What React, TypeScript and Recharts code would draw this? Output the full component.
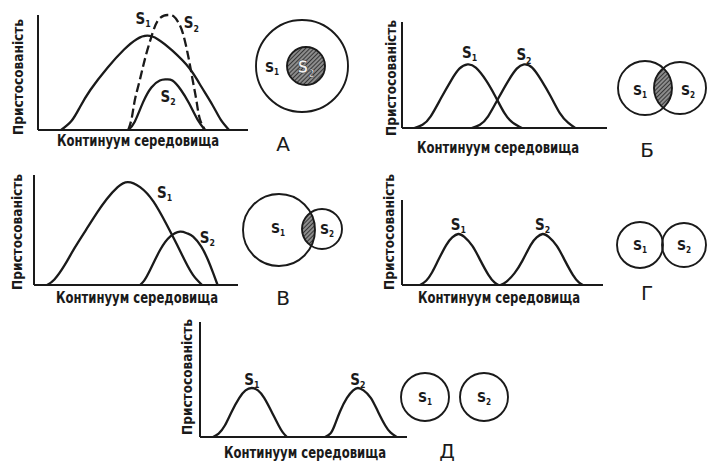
import { LineChart, Line, XAxis, YAxis, ReferenceDot, ScatterChart, Scatter } from 'recharts'

const INK = '#1a1a1a'
const FONT = '"Liberation Sans Narrow", "DejaVu Sans Condensed", "Roboto Condensed", Arial, sans-serif'

const xTitle = 'Континуум середовища'
const yTitle = 'Пристосованість'
const panelLetters = ['А', 'Б', 'В', 'Г', 'Д']

// fitness curves: x = position on the environmental gradient (0–100), y = fitness (0–100)
// А — S2 niche inside S1
const aS1 = [
  { x: 11, y: 0 }, { x: 16, y: 8 }, { x: 20, y: 20 }, { x: 25, y: 35 }, { x: 33, y: 54 },
  { x: 41, y: 70 }, { x: 47, y: 79 }, { x: 52, y: 82 }, { x: 57, y: 79 }, { x: 64, y: 69 },
  { x: 72, y: 54 }, { x: 77, y: 40 }, { x: 83, y: 22 }, { x: 87, y: 9 }, { x: 91, y: 0 },
]
const aS2free = [
  { x: 43, y: 0 }, { x: 44.6, y: 10 }, { x: 46, y: 25 }, { x: 48, y: 40 }, { x: 50, y: 55 },
  { x: 52, y: 69 }, { x: 54.5, y: 84 }, { x: 57, y: 95 }, { x: 60, y: 99.5 }, { x: 62, y: 100 },
  { x: 64.5, y: 99 }, { x: 67, y: 93 }, { x: 69, y: 84 }, { x: 71, y: 69 }, { x: 72.5, y: 55 },
  { x: 74, y: 40 }, { x: 75.5, y: 25 }, { x: 77, y: 10 }, { x: 79.5, y: 0 },
]
const aS2 = [
  { x: 43, y: 0 }, { x: 46, y: 7 }, { x: 50, y: 24 }, { x: 54, y: 37 }, { x: 58, y: 43 },
  { x: 61, y: 44 }, { x: 64, y: 43 }, { x: 68, y: 35 }, { x: 72, y: 23 }, { x: 76, y: 9 },
  { x: 79.5, y: 0 },
]
// Б — partial overlap
const bS1 = [
  { x: 6, y: 0 }, { x: 10, y: 3 }, { x: 14, y: 11 }, { x: 19, y: 28 }, { x: 24, y: 45 },
  { x: 28, y: 56 }, { x: 32, y: 60 }, { x: 36, y: 57 }, { x: 41, y: 45 }, { x: 45.5, y: 30 },
  { x: 50, y: 14 }, { x: 54, y: 5 }, { x: 58.5, y: 0 },
]
const bS2 = [
  { x: 34, y: 0 }, { x: 38, y: 3 }, { x: 42, y: 11 }, { x: 47, y: 28 }, { x: 52, y: 45 },
  { x: 56, y: 56 }, { x: 59.5, y: 60 }, { x: 63.5, y: 57 }, { x: 68, y: 45 }, { x: 72.5, y: 30 },
  { x: 77, y: 14 }, { x: 81, y: 5 }, { x: 84.5, y: 0 },
]
// В — small niche on the edge of a large one
const cS1 = [
  { x: 6.4, y: 0 }, { x: 10, y: 5 }, { x: 15, y: 18 }, { x: 20, y: 34 }, { x: 26.5, y: 53 },
  { x: 31, y: 66 }, { x: 35.6, y: 78 }, { x: 41, y: 89 }, { x: 46, y: 93.6 }, { x: 52, y: 89 },
  { x: 58.5, y: 76 }, { x: 65, y: 55 }, { x: 70, y: 37 }, { x: 74, y: 22 }, { x: 78, y: 9 },
  { x: 82.4, y: 0 },
]
const cS2 = [
  { x: 52, y: 0 }, { x: 54, y: 4 }, { x: 56.9, y: 13.6 }, { x: 61.8, y: 31.8 }, { x: 66.7, y: 44 },
  { x: 71.6, y: 48.5 }, { x: 75, y: 47 }, { x: 78, y: 44 }, { x: 82, y: 34.8 }, { x: 85.3, y: 22.7 },
  { x: 87.8, y: 11 }, { x: 90, y: 0 },
]
// Г — touching niches
const dS1 = [
  { x: 9, y: 0 }, { x: 12, y: 5 }, { x: 15, y: 15 }, { x: 18, y: 29 }, { x: 22, y: 47 },
  { x: 25, y: 56 }, { x: 28, y: 60 }, { x: 31, y: 56.5 }, { x: 35, y: 46 }, { x: 39, y: 29 },
  { x: 43, y: 12 }, { x: 46, y: 3 }, { x: 48, y: 0 },
]
const dS2 = [
  { x: 49, y: 0 }, { x: 52, y: 4 }, { x: 56, y: 14 }, { x: 60, y: 29 }, { x: 64, y: 47 },
  { x: 67, y: 56 }, { x: 70, y: 60 }, { x: 73, y: 56.5 }, { x: 77, y: 46 }, { x: 81, y: 29 },
  { x: 85, y: 12 }, { x: 88, y: 3 }, { x: 90, y: 0 },
]
// Д — separated niches
const eS1 = [
  { x: 6.3, y: 0 }, { x: 9, y: 3 }, { x: 12, y: 10 }, { x: 15.3, y: 22 }, { x: 19, y: 34 },
  { x: 22, y: 40.5 }, { x: 25, y: 42.6 }, { x: 28, y: 40.5 }, { x: 31, y: 34 }, { x: 34.6, y: 22 },
  { x: 38, y: 10 }, { x: 40, y: 4 }, { x: 42, y: 0 },
]
const eS2 = [
  { x: 60.4, y: 0 }, { x: 63, y: 3 }, { x: 65, y: 10 }, { x: 67.6, y: 22 }, { x: 71, y: 34 },
  { x: 74, y: 40.5 }, { x: 76.3, y: 42.6 }, { x: 79, y: 40.5 }, { x: 82.5, y: 34 }, { x: 86, y: 22 },
  { x: 89.5, y: 10 }, { x: 92, y: 4 }, { x: 95, y: 0 },
]

// species names over the curves (same units as the curves)
const aTags = [{ x: 50, y: 97, n: 1 }, { x: 73, y: 93, n: 2 }, { x: 62, y: 29, n: 2 }]
const bTags = [{ x: 33, y: 71, n: 1 }, { x: 59.5, y: 69, n: 2 }]
const cTags = [{ x: 64, y: 84, n: 1 }, { x: 85, y: 43, n: 2 }]
const dTags = [{ x: 28, y: 71, n: 1 }, { x: 70, y: 71, n: 2 }]
const eTags = [{ x: 25, y: 50, n: 1 }, { x: 76.3, y: 50, n: 2 }]

// niche circles, in box pixels (x, y from the top-left of each diagram box)
const aRings = [{ x: 52, y: 56, r: 46 }, { x: 56, y: 56, r: 19 }]
const bRings = [{ x: 35, y: 38, r: 27 }, { x: 70, y: 38, r: 26 }]
const cRings = [{ x: 39, y: 45, r: 36 }, { x: 82, y: 44, r: 20 }]
const dRings = [{ x: 30, y: 30, r: 23 }, { x: 74, y: 30, r: 22 }]
const eRings = [{ x: 30, y: 32, r: 24 }, { x: 89, y: 32, r: 24 }]

const aRingTags = [{ x: 22, y: 57, n: 1 }, { x: 56, y: 57, n: 2, light: true }]
const bRingTags = [{ x: 30, y: 40, n: 1 }, { x: 78, y: 40, n: 2 }]
const cRingTags = [{ x: 38, y: 43, n: 1 }, { x: 87, y: 44, n: 2 }]
const dRingTags = [{ x: 30, y: 30, n: 1 }, { x: 74, y: 30, n: 2 }]
const eRingTags = [{ x: 30, y: 32, n: 1 }, { x: 89, y: 32, n: 2 }]

type Pt = { x: number; y: number }
type Ring = { x: number; y: number; r: number }
type Tag = { x: number; y: number; n: number; light?: boolean }
type Frame = {
  x0: number; y0: number; w: number; h: number
  l: number; r: number; t: number; b: number
  xt: [number, number]; yt: [number, number]
}

function SName({ x, y, n, size = 15, light = false }: { x: number; y: number; n: number; size?: number; light?: boolean }) {
  return (
    <text
      x={x}
      y={y + size * 0.36}
      textAnchor="middle"
      fontFamily={FONT}
      fontSize={size}
      fontWeight={700}
      fill={light ? '#f2f2f2' : INK}
      stroke={light ? '#3a3a3a' : 'none'}
      strokeWidth={light ? 0.6 : 0}
    >
      S<tspan fontSize={size * 0.58} dy={size * 0.22}>{n}</tspan>
    </text>
  )
}

function XTitle({ px, py }: { px: number; py: number }) {
  return (
    <text x={px} y={py} textAnchor="middle" fontFamily={FONT} fontSize={15} fontWeight={700} fill={INK}
      textLength={162} lengthAdjust="spacingAndGlyphs">
      {xTitle}
    </text>
  )
}

function YTitle({ px, py }: { px: number; py: number }) {
  const bx = px + 4.5
  return (
    <text x={bx} y={py} transform={`rotate(-90 ${bx} ${py})`} textAnchor="middle" fontFamily={FONT}
      fontSize={14} fontWeight={700} fill={INK} textLength={116} lengthAdjust="spacingAndGlyphs">
      {yTitle}
    </text>
  )
}

function NichePlot({ f, curves, tags }: { f: Frame; curves: { data: Pt[]; dashed?: boolean }[]; tags: Tag[] }) {
  const margin = { top: f.t - f.y0, right: f.x0 + f.w - f.r, bottom: 0, left: 0 }
  return (
    <div style={{ position: 'absolute', left: f.x0, top: f.y0 }}>
      <LineChart width={f.w} height={f.h} margin={margin}>
        <XAxis
          type="number"
          dataKey="x"
          domain={[0, 100]}
          tick={false}
          tickLine={false}
          axisLine={{ stroke: INK, strokeWidth: 2 }}
          height={f.y0 + f.h - f.b}
          label={<XTitle px={f.xt[0] - f.x0} py={f.xt[1] - f.y0} />}
        />
        <YAxis
          type="number"
          domain={[0, 100]}
          tick={false}
          tickLine={false}
          axisLine={{ stroke: INK, strokeWidth: 2 }}
          width={f.l - f.x0}
          label={<YTitle px={f.yt[0] - f.x0} py={f.yt[1] - f.y0} />}
        />
        {curves.map((c, i) => (
          <Line
            key={i}
            data={c.data}
            dataKey="y"
            type="natural"
            stroke={INK}
            strokeWidth={2.3}
            strokeDasharray={c.dashed ? '9 4' : undefined}
            dot={false}
            activeDot={false}
            isAnimationActive={false}
          />
        ))}
        {tags.map((t, i) => (
          <ReferenceDot
            key={i}
            x={t.x}
            y={t.y}
            r={0}
            ifOverflow="visible"
            shape={(p: any) => <SName x={p.cx} y={p.cy} n={t.n} />}
          />
        ))}
      </LineChart>
    </div>
  )
}

// hatched part of `ring` lying inside `clip`
function lensOf(id: string, ring: Ring, clip: Ring) {
  return { id, ...ring, kx: clip.x, ky: clip.y, kr: clip.r }
}

function HatchShape(p: any) {
  const d = p.payload
  const kx = p.cx + (d.kx - d.x)
  const ky = p.cy + (d.ky - d.y)
  const pid = `hatch-${d.id}`
  const cid = `lens-${d.id}`
  return (
    <g>
      <defs>
        <pattern id={pid} width={3} height={3} patternUnits="userSpaceOnUse" patternTransform="rotate(45)">
          <rect width={3} height={3} fill="#8c8c8c" />
          <line x1={0} y1={0} x2={0} y2={3} stroke="#1f1f1f" strokeWidth={1.6} />
        </pattern>
        <clipPath id={cid}>
          <circle cx={kx} cy={ky} r={d.kr} />
        </clipPath>
      </defs>
      <circle cx={p.cx} cy={p.cy} r={d.r} fill={`url(#${pid})`} clipPath={`url(#${cid})`} />
    </g>
  )
}

function RingShape(p: any) {
  return <circle cx={p.cx} cy={p.cy} r={p.payload.r} fill="none" stroke={INK} strokeWidth={1.9} />
}

function VennPlot({ x0, y0, w, h, rings, lens, tags }: {
  x0: number; y0: number; w: number; h: number; rings: Ring[]; lens?: any; tags: Tag[]
}) {
  return (
    <div style={{ position: 'absolute', left: x0, top: y0 }}>
      <ScatterChart width={w} height={h} margin={{ top: 0, right: 0, bottom: 0, left: 0 }}>
        <XAxis type="number" dataKey="x" domain={[0, w]} hide />
        <YAxis type="number" dataKey="y" domain={[0, h]} reversed hide />
        {lens && <Scatter data={[lens]} shape={HatchShape} isAnimationActive={false} />}
        <Scatter data={rings} shape={RingShape} isAnimationActive={false} />
        {tags.map((t, i) => (
          <ReferenceDot
            key={i}
            x={t.x}
            y={t.y}
            r={0}
            ifOverflow="visible"
            shape={(p: any) => <SName x={p.cx} y={p.cy} n={t.n} size={t.light ? 17 : 14} light={t.light} />}
          />
        ))}
      </ScatterChart>
    </div>
  )
}

const frames: Frame[] = [
  { x0: 0, y0: 0, w: 260, h: 165, l: 38, r: 248, t: 15, b: 130, xt: [138, 146], yt: [18, 77] },
  { x0: 365, y0: 0, w: 255, h: 165, l: 402, r: 607, t: 22, b: 128, xt: [498, 153], yt: [391, 78] },
  { x0: 0, y0: 165, w: 250, h: 145, l: 34, r: 238, t: 175, b: 285, xt: [137, 303], yt: [17.5, 232] },
  { x0: 365, y0: 165, w: 250, h: 145, l: 402, r: 603, t: 200, b: 285, xt: [499, 303], yt: [389, 232] },
  { x0: 165, y0: 310, w: 255, h: 152, l: 200, r: 407, t: 322, b: 437, xt: [305, 458], yt: [187.5, 377] },
]

const letterSpots: [number, number][] = [[283, 144], [647, 150], [283, 298], [647, 293], [447, 451]]

export default function App() {
  return (
    <div style={{ position: 'absolute', left: 0, top: 0, width: 710, height: 462, background: '#fff', overflow: 'hidden' }}>
      <NichePlot f={frames[0]} curves={[{ data: aS1 }, { data: aS2free, dashed: true }, { data: aS2 }]} tags={aTags} />
      <NichePlot f={frames[1]} curves={[{ data: bS1 }, { data: bS2 }]} tags={bTags} />
      <NichePlot f={frames[2]} curves={[{ data: cS1 }, { data: cS2 }]} tags={cTags} />
      <NichePlot f={frames[3]} curves={[{ data: dS1 }, { data: dS2 }]} tags={dTags} />
      <NichePlot f={frames[4]} curves={[{ data: eS1 }, { data: eS2 }]} tags={eTags} />

      <VennPlot x0={250} y0={10} w={110} h={115} rings={aRings} lens={lensOf('a', aRings[1], aRings[0])} tags={aRingTags} />
      <VennPlot x0={610} y0={50} w={100} h={80} rings={bRings} lens={lensOf('b', bRings[1], bRings[0])} tags={bRingTags} />
      <VennPlot x0={240} y0={185} w={110} h={90} rings={cRings} lens={lensOf('c', cRings[1], cRings[0])} tags={cRingTags} />
      <VennPlot x0={610} y0={215} w={100} h={60} rings={dRings} tags={dRingTags} />
      <VennPlot x0={395} y0={365} w={120} h={65} rings={eRings} tags={eRingTags} />

      <svg width={710} height={462} style={{ position: 'absolute', left: 0, top: 0, pointerEvents: 'none' }}>
        {panelLetters.map((s, i) => (
          <text key={s} x={letterSpots[i][0]} y={letterSpots[i][1] + 7} textAnchor="middle"
            fontFamily='"DejaVu Sans", Arial, sans-serif' fontSize={20} fill={INK}>
            {s}
          </text>
        ))}
      </svg>
    </div>
  )
}
